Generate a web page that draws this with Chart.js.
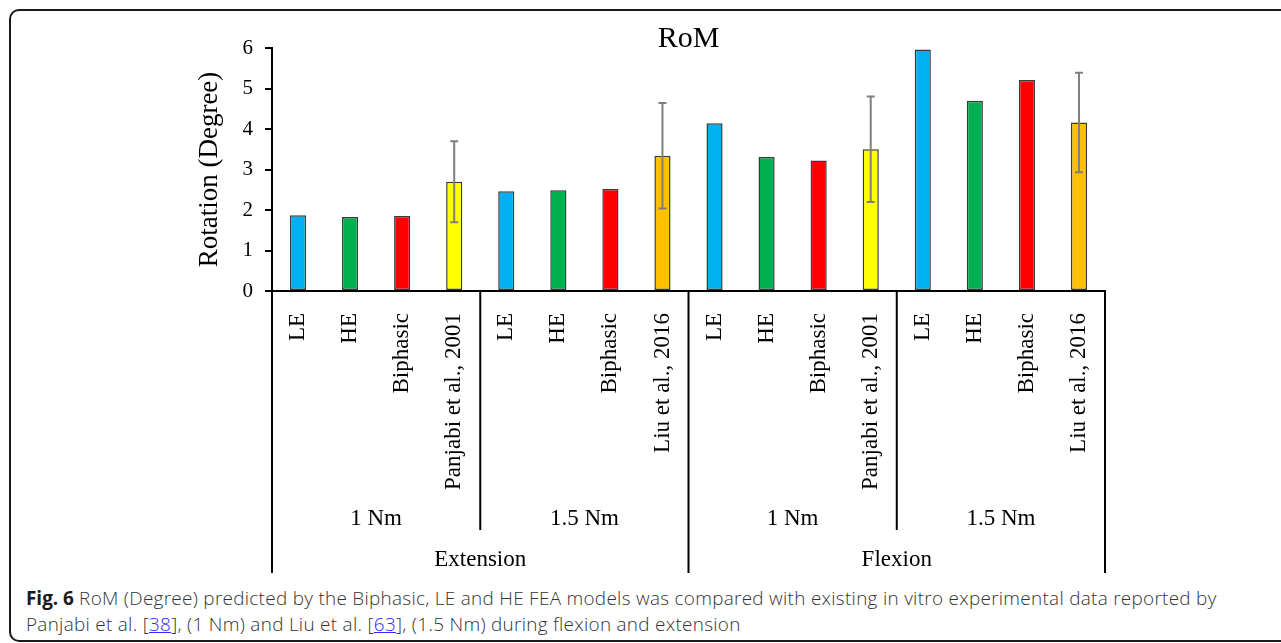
<!DOCTYPE html>
<html>
<head>
<meta charset="utf-8">
<title>RoM</title>
<script src="https://cdn.jsdelivr.net/npm/chart.js@4.4.0/dist/chart.umd.min.js"></script>
<style>
  html, body { margin: 0; padding: 0; background: #fff; width: 1281px; height: 643px; overflow: hidden; }
  #frame {
    position: absolute; left: 9px; top: 9px; width: 1300px; height: 629px;
    border: 2px solid #1a1a1a; border-radius: 10px;
  }
  #chart { position: absolute; left: 0; top: 0; }
  #caption {
    position: absolute; left: 26px; top: 586px; white-space: nowrap;
    font-family: "Open Sans", sans-serif; font-weight: 300; font-size: 18.9px; letter-spacing: 0.3px;
    line-height: 25.5px; color: #333;
  }
  #caption b { color: #1a1a1a; font-weight: 700; letter-spacing: 0; }
  #caption a { color: #2b2bff; text-decoration: underline; }
</style>
</head>
<body>
<div id="frame"></div>
<canvas id="chart" width="1281" height="580"></canvas>
<div id="caption"><b>Fig. 6</b> RoM (Degree) predicted by the Biphasic, LE and HE FEA models was compared with existing in vitro experimental data reported by<br>Panjabi et al. [<a>38</a>], (1 Nm) and Liu et al. [<a>63</a>], (1.5 Nm) during flexion and extension</div>

<script>
// Bar categories (model / reference study), left to right
const categories = [
  'LE', 'HE', 'Biphasic', 'Panjabi et al., 2001',
  'LE', 'HE', 'Biphasic', 'Liu et al., 2016',
  'LE', 'HE', 'Biphasic', 'Panjabi et al., 2001',
  'LE', 'HE', 'Biphasic', 'Liu et al., 2016'
];

// Range of motion in degrees
const rotation = [
  1.87, 1.83, 1.85, 2.70,
  2.46, 2.49, 2.52, 3.34,
  4.14, 3.31, 3.22, 3.50,
  5.96, 4.70, 5.21, 4.16
];

// Experimental standard deviation (only for in vitro data)
const rotationSD = [
  null, null, null, 1.00,
  null, null, null, 1.30,
  null, null, null, 1.30,
  null, null, null, 1.23
];

// Grouping rows under the category labels
const loadLabels = ['1 Nm', '1.5 Nm', '1 Nm', '1.5 Nm'];
const motionLabels = ['Extension', 'Flexion'];

// Y axis ticks
const yTicks = [0, 1, 2, 3, 4, 5, 6];

const seriesColors = {
  'LE': '#00B0F0',
  'HE': '#00B050',
  'Biphasic': '#FF0000',
  'Panjabi et al., 2001': '#FFFF00',
  'Liu et al., 2016': '#FFC000'
};

const serif = '"Liberation Serif", "Times New Roman", serif';
Chart.defaults.font.family = serif;
Chart.defaults.color = '#000';

// Title, error bars and the two-level group axis under the category labels
const decorations = {
  id: 'decorations',
  afterDatasetsDraw(chart) {
    const { ctx, scales: { y } } = chart;
    const meta = chart.getDatasetMeta(0);

    // error bars
    ctx.save();
    ctx.strokeStyle = '#7F7F7F';
    ctx.lineWidth = 2;
    rotationSD.forEach((sd, i) => {
      if (sd == null) return;
      const cx = meta.data[i].x;
      const yTop = y.getPixelForValue(rotation[i] + sd);
      const yBot = y.getPixelForValue(rotation[i] - sd);
      ctx.beginPath();
      ctx.moveTo(cx, yTop); ctx.lineTo(cx, yBot);
      ctx.moveTo(cx - 4, yTop); ctx.lineTo(cx + 4, yTop);
      ctx.moveTo(cx - 4, yBot); ctx.lineTo(cx + 4, yBot);
      ctx.stroke();
    });
    ctx.restore();
  },
  afterDraw(chart) {
    const { ctx, chartArea, scales: { x } } = chart;
    const n = categories.length;
    const step = x.getPixelForValue(1) - x.getPixelForValue(0);
    const edge = i => x.getPixelForValue(i) - step / 2;
    const base = chartArea.bottom;

    ctx.save();
    // chart title
    ctx.fillStyle = '#000';
    ctx.font = '30px ' + serif;
    ctx.textAlign = 'center';
    ctx.textBaseline = 'alphabetic';
    ctx.fillText('RoM', (chartArea.left + chartArea.right) / 2, chartArea.top - 1);

    ctx.strokeStyle = '#000';
    ctx.lineWidth = 2;
    ctx.font = '23px ' + serif;

    const perLoad = n / loadLabels.length;
    const perMotion = n / motionLabels.length;

    // inner separators and load labels
    loadLabels.forEach((lbl, g) => {
      const l = edge(g * perLoad), r = edge((g + 1) * perLoad);
      ctx.fillText(lbl, (l + r) / 2, base + 234);
      if (g > 0 && (g * perLoad) % perMotion !== 0) {
        ctx.beginPath(); ctx.moveTo(l, base); ctx.lineTo(l, base + 239); ctx.stroke();
      }
    });
    // outer separators and motion labels
    motionLabels.forEach((lbl, g) => {
      const l = edge(g * perMotion), r = edge((g + 1) * perMotion);
      ctx.fillText(lbl, (l + r) / 2, base + 275);
    });
    for (let g = 0; g <= motionLabels.length; g++) {
      const px = edge(g * perMotion);
      ctx.beginPath(); ctx.moveTo(px, base - 1); ctx.lineTo(px, base + 282); ctx.stroke();
    }
    ctx.restore();
  }
};

new Chart(document.getElementById('chart'), {
  type: 'bar',
  data: {
    labels: categories,
    datasets: [{
      data: rotation,
      backgroundColor: categories.map(c => seriesColors[c]),
      borderColor: '#3a3a3a',
      borderWidth: 1.5,
      borderSkipped: false,
      categoryPercentage: 1,
      barPercentage: 0.31
    }]
  },
  options: {
    responsive: false,
    animation: false,
    events: [],
    layout: { padding: { left: 190, right: 176, top: 48, bottom: 0 } },
    plugins: {
      legend: { display: false },
      title: { display: false },
      tooltip: { enabled: false }
    },
    scales: {
      x: {
        type: 'category',
        grid: { display: false },
        border: { display: true, color: '#000', width: 2 },
        ticks: {
          autoSkip: false, minRotation: 90, maxRotation: 90,
          padding: 14, color: '#000', font: { size: 23, family: serif }
        },
        afterFit(scale) { scale.height = 289; }
      },
      y: {
        min: 0, max: 6,
        afterBuildTicks(scale) { scale.ticks = yTicks.map(v => ({ value: v })); },
        grid: { display: true, drawOnChartArea: false, drawTicks: true, tickLength: 7, color: '#000', lineWidth: 2 },
        border: { display: true, color: '#000', width: 2 },
        ticks: { padding: 12, color: '#000', font: { size: 21, family: serif } },
        title: {
          display: true, text: 'Rotation (Degree)', color: '#000',
          font: { size: 27, family: serif }, padding: { top: 4, bottom: 0 }
        },
        afterFit(scale) { scale.width = 82; }
      }
    }
  },
  plugins: [decorations]
});
</script>
</body>
</html>
